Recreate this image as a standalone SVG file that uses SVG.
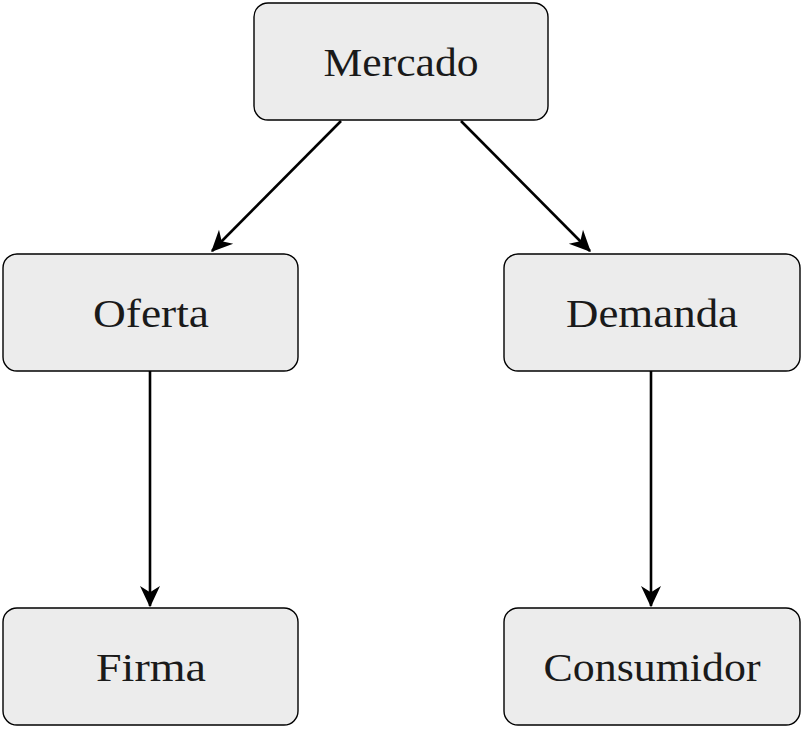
<svg xmlns="http://www.w3.org/2000/svg" width="802" height="729" viewBox="0 0 802 729">
<defs>
<style>
.box{fill:#ececec;stroke:#000;stroke-width:1.4}
.lbl{font-family:"Liberation Serif","DejaVu Serif",serif;font-size:40px;fill:#1a1a1a;text-anchor:middle}
.edge{stroke:#000;stroke-width:2.6;fill:none;marker-end:url(#ah)}
</style>
<marker id="ah" markerUnits="userSpaceOnUse" markerWidth="30" markerHeight="30" viewBox="-20 -10 24 20" refX="0" refY="0" orient="auto">
<path d="M1,0 L-16,-8 L-11,0 L-16,8 Z" fill="#000"/>
</marker>
</defs>
<rect width="802" height="729" fill="#fff"/>
<g id="connectors">
<line class="edge" x1="341" y1="121" x2="212" y2="251"/>
<line class="edge" x1="461" y1="121" x2="590" y2="251"/>
<line class="edge" x1="150" y1="371" x2="150" y2="606"/>
<line class="edge" x1="651" y1="371" x2="651" y2="606"/>
</g>
<g id="mercado"><rect class="box" x="254" y="3" width="294" height="117" rx="14"/><text class="lbl" x="401" y="76" textLength="155" lengthAdjust="spacingAndGlyphs">Mercado</text></g>
<g id="oferta"><rect class="box" x="3" y="254" width="295" height="117" rx="14"/><text class="lbl" x="151" y="327" textLength="116" lengthAdjust="spacingAndGlyphs">Oferta</text></g>
<g id="demanda"><rect class="box" x="504" y="254" width="296" height="117" rx="14"/><text class="lbl" x="652" y="327" textLength="172" lengthAdjust="spacingAndGlyphs">Demanda</text></g>
<g id="firma"><rect class="box" x="3" y="608" width="295" height="117" rx="14"/><text class="lbl" x="151" y="681" textLength="110" lengthAdjust="spacingAndGlyphs">Firma</text></g>
<g id="consumidor"><rect class="box" x="504" y="608" width="296" height="117" rx="14"/><text class="lbl" x="652" y="681" textLength="217" lengthAdjust="spacingAndGlyphs">Consumidor</text></g>
</svg>
